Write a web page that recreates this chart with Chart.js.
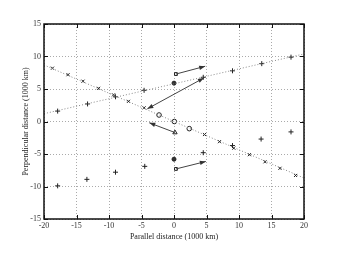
<!DOCTYPE html>
<html>
<head>
<meta charset="utf-8">
<script src="https://cdn.jsdelivr.net/npm/chart.js"></script>
<style>
  body { margin: 0; background: #fff; }
  canvas { display: block; }
</style>
</head>
<body>
<canvas id="chart" width="337" height="253"></canvas>
<script>
// Marcadores "x" sobre la recta descendente
const crossX = [-18.7, -16.3, -14, -11.6, -9.3, -7, -4.6, 4.7, 7, 9.2, 11.6, 14, 16.3, 18.7];
const crossY = [8.2, 7.2, 6.2, 5.1, 4.1, 3.1, 2.1, -2.0, -3.1, -4.1, -5.1, -6.2, -7.2, -8.3];

// Marcadores "+" superiores e inferiores
const plusUpX = [-17.9, -13.3, -9, -4.6, 4.5, 9, 13.5, 18];
const plusUpY = [1.6, 2.7, 3.8, 4.8, 6.8, 7.8, 8.9, 9.9];
const plusLowX = [-17.9, -13.4, -9, -4.5, 4.5, 9, 13.4, 18];
const plusLowY = [-9.9, -8.9, -7.8, -6.9, -4.8, -3.7, -2.7, -1.6];

// Puntos centrales
const circleX = [-2.3, 0.05, 2.35];
const circleY = [1.0, 0, -1.1];
const dotX = [0, 0];
const dotY = [5.9, -5.8];
const squareX = [0.3, 0.3];
const squareY = [7.3, -7.3];
const triX = [0.15];
const triY = [-1.7];

// Rectas punteadas
const descLineX = [-20, 20];
const descLineY = [8.7, -8.7];
const ascLineX = [-20, 20];
const ascLineY = [1.2, 10.4];

// Flechas
const arrowFromX = [0.3, 0.3, -4.1, 0.15];
const arrowFromY = [7.3, -7.3, 1.95, -1.7];
const arrowToX = [4.8, 4.9, 4.6, -3.8];
const arrowToY = [8.5, -6.15, 6.7, -0.2];
const arrowBoth = [false, false, true, false];

const xTicks = [-20, -15, -10, -5, 0, 5, 10, 15, 20];
const yTicks = [-15, -10, -5, 0, 5, 10, 15];

const FONT = { family: '"Liberation Serif", "DejaVu Serif", serif', size: 8 };

function pts(xs, ys) {
    return xs.map((x, i) => ({ x: x, y: ys[i] }));
}

function markerSet(xs, ys, style, radius, fill) {
    return {
        type: 'scatter',
        data: pts(xs, ys),
        pointStyle: style,
        pointRadius: radius,
        pointBorderWidth: 1,
        pointBorderColor: '#222',
        pointBackgroundColor: fill,
        showLine: false,
    };
}

function lineSet(xs, ys) {
    return {
        type: 'line',
        data: pts(xs, ys),
        borderColor: '#888',
        borderWidth: 1,
        borderDash: [1, 2],
        pointRadius: 0,
        fill: false,
    };
}

// Marco, marcas interiores y flechas
const framePlugin = {
    id: 'frame',
    afterDraw(chart) {
        const ctx = chart.ctx;
        const a = chart.chartArea;
        const sx = chart.scales.x, sy = chart.scales.y;
        ctx.save();
        ctx.strokeStyle = '#111';
        ctx.lineWidth = 1;
        xTicks.forEach(v => {
            const p = Math.round(sx.getPixelForValue(v)) + 0.5;
            ctx.beginPath();
            ctx.moveTo(p, a.bottom); ctx.lineTo(p, a.bottom - 4);
            ctx.moveTo(p, a.top); ctx.lineTo(p, a.top + 4);
            ctx.stroke();
        });
        yTicks.forEach(v => {
            const p = Math.round(sy.getPixelForValue(v)) + 0.5;
            ctx.beginPath();
            ctx.moveTo(a.left, p); ctx.lineTo(a.left + 4, p);
            ctx.moveTo(a.right, p); ctx.lineTo(a.right - 4, p);
            ctx.stroke();
        });
        ctx.lineWidth = 1.5;
        ctx.strokeRect(a.left, a.top, a.right - a.left, a.bottom - a.top);

        // flechas
        ctx.strokeStyle = '#444';
        ctx.fillStyle = '#333';
        ctx.lineWidth = 1;
        function head(x0, y0, x1, y1) {
            const ang = Math.atan2(y1 - y0, x1 - x0);
            const L = 6, W = 2.2;
            ctx.beginPath();
            ctx.moveTo(x1, y1);
            ctx.lineTo(x1 - L * Math.cos(ang) + W * Math.sin(ang), y1 - L * Math.sin(ang) - W * Math.cos(ang));
            ctx.lineTo(x1 - L * Math.cos(ang) - W * Math.sin(ang), y1 - L * Math.sin(ang) + W * Math.cos(ang));
            ctx.closePath();
            ctx.fill();
        }
        arrowFromX.forEach((_, i) => {
            const x0 = sx.getPixelForValue(arrowFromX[i]);
            const y0 = sy.getPixelForValue(arrowFromY[i]);
            const x1 = sx.getPixelForValue(arrowToX[i]);
            const y1 = sy.getPixelForValue(arrowToY[i]);
            ctx.beginPath();
            ctx.moveTo(x0, y0); ctx.lineTo(x1, y1);
            ctx.stroke();
            head(x0, y0, x1, y1);
            if (arrowBoth[i]) head(x1, y1, x0, y0);
        });
        ctx.restore();
    }
};

new Chart(document.getElementById('chart'), {
    type: 'scatter',
    data: {
        datasets: [
            lineSet(descLineX, descLineY),
            lineSet(ascLineX, ascLineY),
            markerSet(crossX, crossY, 'crossRot', 2.2, '#222'),
            markerSet(plusUpX, plusUpY, 'cross', 2.5, '#222'),
            markerSet(plusLowX, plusLowY, 'cross', 2.5, '#222'),
            markerSet(circleX, circleY, 'circle', 2.3, '#fff'),
            markerSet(dotX, dotY, 'circle', 2, '#333'),
            markerSet(squareX, squareY, 'rect', 2, '#fff'),
            markerSet(triX, triY, 'triangle', 2.5, '#fff'),
        ]
    },
    options: {
        responsive: false,
        animation: false,
        layout: { padding: { left: 21, right: 33, top: 24, bottom: 11 } },
        plugins: {
            legend: { display: false },
            tooltip: { enabled: false },
        },
        scales: {
            x: {
                type: 'linear',
                min: -20, max: 20,
                afterFit(scale) { scale.height = 23; },
                afterBuildTicks(scale) { scale.ticks = xTicks.map(v => ({ value: v })); },
                grid: { color: '#aaa', lineWidth: 1, drawTicks: false },
                border: { display: false, dash: [1, 2] },
                ticks: { color: '#333', font: FONT, padding: 2, maxRotation: 0 },
                title: { display: true, text: 'Parallel distance (1000 km)', color: '#222', font: FONT, padding: 0 },
            },
            y: {
                type: 'linear',
                min: -15, max: 15,
                afterFit(scale) { scale.width = 23; },
                afterBuildTicks(scale) { scale.ticks = yTicks.map(v => ({ value: v })); },
                grid: { color: '#aaa', lineWidth: 1, drawTicks: false },
                border: { display: false, dash: [1, 2] },
                ticks: { color: '#333', font: FONT, padding: 3 },
                title: { display: true, text: 'Perpendicular distance (1000 km)', color: '#222', font: FONT, padding: 0 },
            }
        }
    },
    plugins: [framePlugin]
});
</script>
</body>
</html>
